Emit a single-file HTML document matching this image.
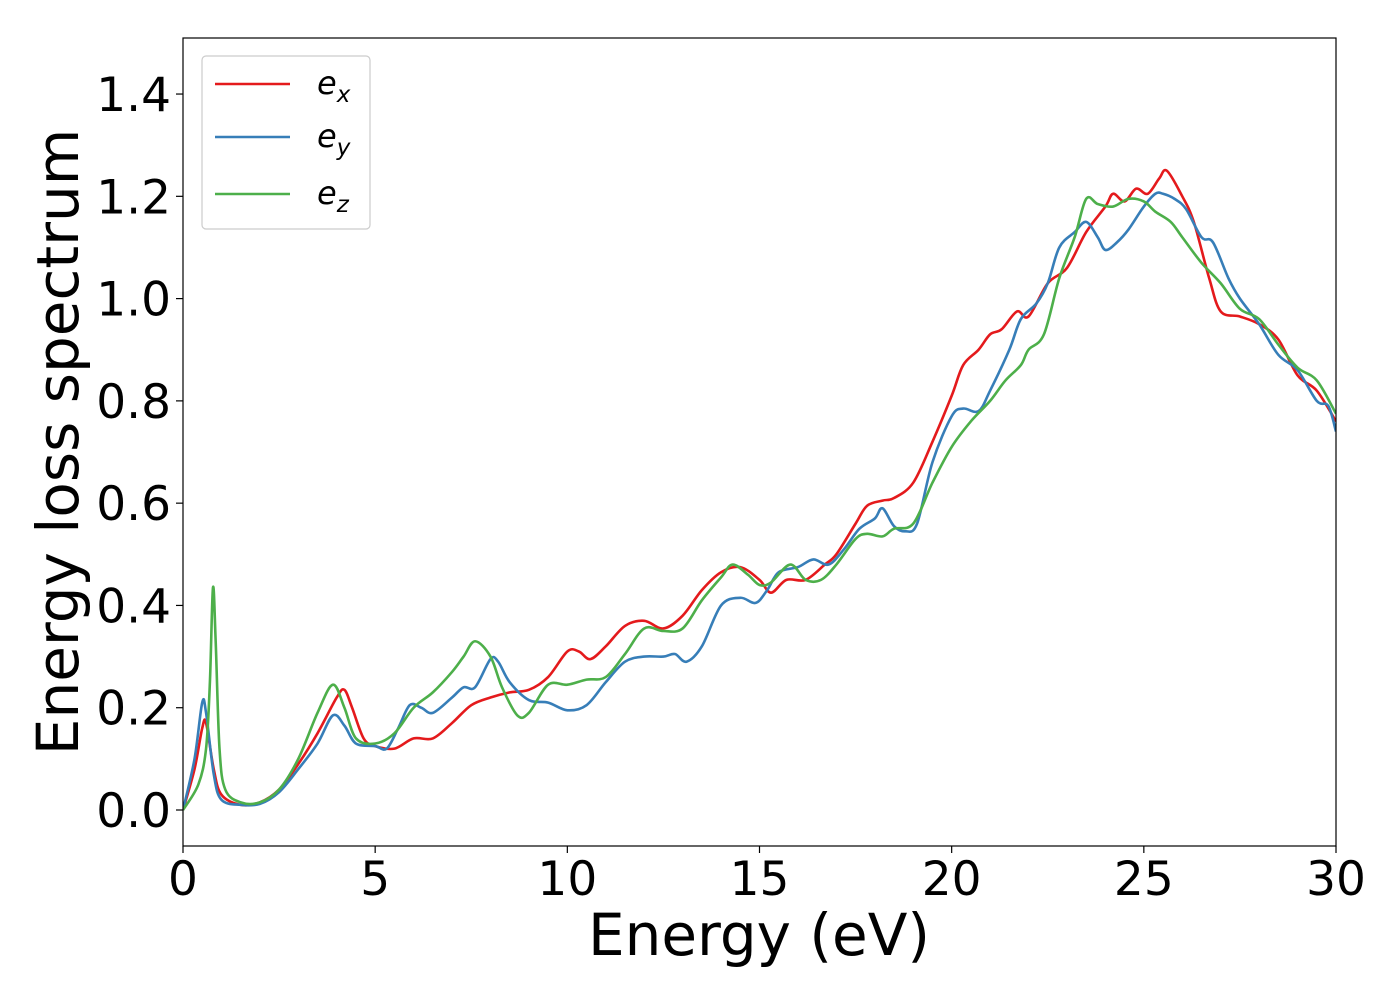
<!DOCTYPE html>
<html><head><meta charset="utf-8"><style>
body{margin:0;background:#fff;}
svg text{font-family:"DejaVu Sans","Liberation Sans",sans-serif;}
</style></head><body>
<svg id="chart" width="1400" height="1000" xmlns="http://www.w3.org/2000/svg"></svg>
<script>
const exX=[0,0.3,0.5,0.6,0.8,1.0,1.5,2,2.5,3,3.5,4,4.2,4.4,4.7,5,5.5,6,6.5,7,7.5,8,8.5,9,9.5,10,10.3,10.6,11,11.5,12,12.5,13,13.5,14,14.5,15,15.3,15.7,16.2,16.7,17,17.5,17.8,18.2,18.5,19,19.5,20,20.3,20.7,21,21.3,21.7,22,22.5,23,23.5,24,24.2,24.5,24.8,25.1,25.4,25.6,26,26.3,26.7,27,27.5,28,28.5,29,29.5,30];
const exY=[0,0.08,0.16,0.17,0.08,0.03,0.01,0.015,0.04,0.09,0.15,0.22,0.235,0.2,0.14,0.125,0.12,0.14,0.14,0.17,0.205,0.22,0.23,0.235,0.26,0.31,0.31,0.295,0.32,0.36,0.37,0.355,0.38,0.43,0.465,0.475,0.45,0.425,0.45,0.45,0.48,0.5,0.56,0.595,0.605,0.61,0.64,0.72,0.81,0.87,0.9,0.93,0.94,0.975,0.965,1.03,1.06,1.13,1.18,1.205,1.19,1.215,1.205,1.235,1.25,1.2,1.15,1.04,0.975,0.965,0.95,0.92,0.85,0.82,0.76];
const eyX=[0,0.3,0.5,0.6,0.8,1.0,1.5,2,2.5,3,3.5,3.9,4.2,4.5,5,5.3,5.6,5.9,6.2,6.5,7,7.3,7.6,8,8.2,8.5,9,9.5,10,10.5,11,11.5,12,12.5,12.8,13.1,13.5,14,14.5,14.9,15.2,15.5,16,16.4,16.8,17.2,17.6,18,18.2,18.5,18.8,19.1,19.5,20,20.3,20.7,21,21.5,21.8,22.2,22.5,22.8,23.2,23.5,23.8,24,24.3,24.6,25,25.3,25.5,25.8,26.1,26.5,26.8,27.2,27.5,28,28.5,29,29.5,29.8,30];
const eyY=[0,0.1,0.21,0.19,0.07,0.02,0.01,0.012,0.035,0.08,0.13,0.185,0.165,0.13,0.125,0.12,0.16,0.205,0.2,0.19,0.22,0.24,0.24,0.295,0.29,0.25,0.215,0.21,0.195,0.205,0.25,0.29,0.3,0.3,0.305,0.29,0.32,0.4,0.415,0.405,0.43,0.465,0.475,0.49,0.48,0.51,0.55,0.57,0.59,0.555,0.545,0.56,0.68,0.77,0.785,0.78,0.82,0.9,0.96,0.99,1.03,1.1,1.13,1.15,1.12,1.095,1.11,1.135,1.18,1.205,1.205,1.195,1.175,1.12,1.11,1.04,1.0,0.95,0.89,0.86,0.8,0.79,0.74];
const ezX=[0,0.4,0.6,0.7,0.78,0.85,0.95,1.1,1.5,2,2.5,3,3.5,3.9,4.2,4.5,5,5.5,6,6.5,7,7.3,7.6,8,8.3,8.7,9,9.5,10,10.5,11,11.5,12,12.5,13,13.5,14,14.3,14.7,15,15.3,15.8,16.2,16.6,17,17.5,17.8,18.2,18.5,19,19.5,20,20.5,21,21.4,21.8,22,22.4,22.8,23.2,23.5,23.8,24.2,24.6,25,25.3,25.7,26,26.5,27,27.5,28,28.5,29,29.5,30];
const ezY=[0,0.05,0.12,0.25,0.435,0.33,0.12,0.04,0.015,0.015,0.04,0.1,0.19,0.245,0.2,0.14,0.13,0.15,0.2,0.23,0.27,0.3,0.33,0.3,0.24,0.185,0.19,0.245,0.245,0.255,0.26,0.305,0.355,0.35,0.355,0.41,0.455,0.48,0.46,0.44,0.445,0.48,0.45,0.45,0.48,0.53,0.54,0.535,0.55,0.56,0.64,0.71,0.76,0.8,0.84,0.87,0.9,0.93,1.04,1.12,1.195,1.185,1.18,1.195,1.19,1.17,1.15,1.12,1.07,1.03,0.98,0.96,0.91,0.865,0.84,0.775];
const xTicks=[0,5,10,15,20,25,30];
const yTicks=[0,0.2,0.4,0.6,0.8,1.0,1.2,1.4];

const L=183,R=1336,T=38,B=846;
const sx=v=>L+(v-0)/30*(R-L);
const sy=v=>810+(-v)*511.4;
const svg=document.getElementById('chart');
const NS='http://www.w3.org/2000/svg';
function mk(tag,attrs,parent){const e=document.createElementNS(NS,tag);for(const k in attrs)e.setAttribute(k,attrs[k]);(parent||svg).appendChild(e);return e;}

const defs=mk('defs',{});
const cp=mk('clipPath',{id:'clip'},defs);
mk('rect',{x:L,y:T,width:R-L,height:B-T},cp);

function pathFor(xs,ys){
  const p=xs.map((x,i)=>[sx(x),sy(ys[i])]);
  let d='M'+p[0][0].toFixed(2)+','+p[0][1].toFixed(2);
  for(let i=0;i<p.length-1;i++){
    const p0=p[i-1]||p[i],p1=p[i],p2=p[i+1],p3=p[i+2]||p2;
    const c1=[p1[0]+(p2[0]-p0[0])/6,p1[1]+(p2[1]-p0[1])/6];
    const c2=[p2[0]-(p3[0]-p1[0])/6,p2[1]-(p3[1]-p1[1])/6];
    d+=' C'+c1[0].toFixed(2)+','+c1[1].toFixed(2)+' '+c2[0].toFixed(2)+','+c2[1].toFixed(2)+' '+p2[0].toFixed(2)+','+p2[1].toFixed(2);
  }
  return d;
}
const g=mk('g',{'clip-path':'url(#clip)'});
const series=[[exX,exY,'#e41a1c','series-ex'],[eyX,eyY,'#377eb8','series-ey'],[ezX,ezY,'#4daf4a','series-ez']];
series.forEach(s=>{
  const p=mk('path',{d:pathFor(s[0],s[1]),fill:'none',stroke:s[2],'stroke-width':2.6,'stroke-linejoin':'round'},g);
  
  
});

const frame=mk('rect',{x:L,y:T,width:R-L,height:B-T,fill:'none',stroke:'#000','stroke-width':1.2});



xTicks.forEach(t=>{
  mk('line',{x1:sx(t),x2:sx(t),y1:B,y2:B+7,stroke:'#000','stroke-width':1.2});
  const tx=mk('text',{x:sx(t),y:895,'font-size':47,'text-anchor':'middle'});
  tx.textContent=String(t);
  
  
});
yTicks.forEach(t=>{
  mk('line',{x1:L-7,x2:L,y1:sy(t),y2:sy(t),stroke:'#000','stroke-width':1.2});
  const tx=mk('text',{x:171,y:sy(t)+17,'font-size':47,'text-anchor':'end'});
  tx.textContent=t.toFixed(1);
  
  
});
const xt=mk('text',{x:759,y:955,'font-size':58,'text-anchor':'middle'});
xt.textContent='Energy (eV)';


const yt=mk('text',{x:0,y:0,'font-size':58,'text-anchor':'middle',transform:'translate(78,442) rotate(-90)'});
yt.textContent='Energy loss spectrum';



const lg=mk('g',{});


mk('rect',{x:202,y:56,width:168,height:173,rx:4,fill:'#fff',stroke:'#ccc','stroke-width':1.2},lg);
const labs=[['x',84,'#e41a1c'],['y',137,'#377eb8'],['z',194,'#4daf4a']];
labs.forEach(l=>{
  const e=mk('g',{},lg);
  
  
  mk('line',{x1:215,x2:290,y1:l[1],y2:l[1],stroke:l[2],'stroke-width':2.6},e);
  const t=mk('text',{x:317,y:l[1]+10,'font-size':32,'font-style':'italic'},e);
  t.textContent='e';
  const s=mk('tspan',{'font-size':23,dy:8},t);
  s.textContent=l[0];
});
</script>
</body></html>
